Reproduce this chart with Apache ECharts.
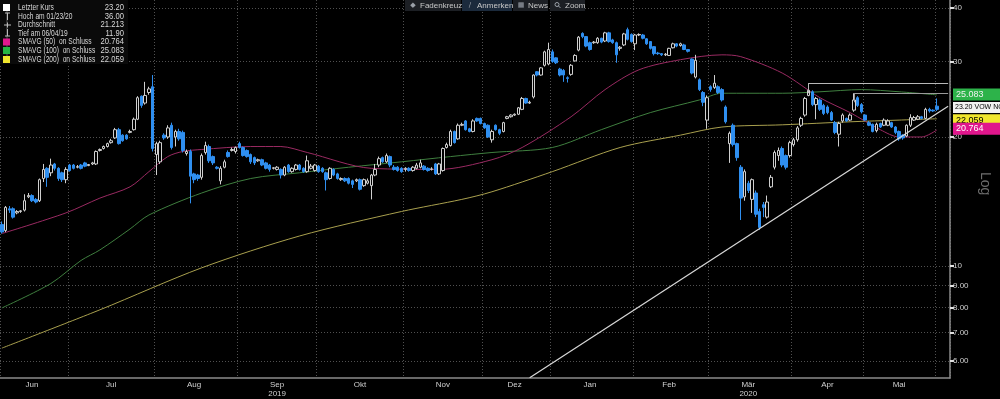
<!DOCTYPE html>
<html>
<head>
<meta charset="utf-8">
<script src="https://cdn.jsdelivr.net/npm/echarts@6/dist/echarts.min.js"></script>
<style>
html, body { margin: 0; padding: 0; background: #000; }
#chart { width: 1000px; height: 399px; }
</style>
</head>
<body>
<div id="chart"></div>
<script>
// trading calendar (Oslo), first day 06/04/19, three empty slots at the end
const firstDay = '2019-06-04';
const lastDay = '2020-06-05';
const holidays = ['2019-06-10', '2019-12-24', '2019-12-25', '2019-12-26', '2019-12-31',
  '2020-01-01', '2020-04-09', '2020-04-10', '2020-04-13', '2020-05-01', '2020-05-21', '2020-06-01'];
const monthNames = ['Jan', 'Feb', 'Mär', 'Apr', 'Mai', 'Jun', 'Jul', 'Aug', 'Sep', 'Okt', 'Nov', 'Dez'];
const yearLabelMonths = ['2019-09', '2020-03'];

// [open, close, low, high]
const ohlc = [
  [12.5,12.0,11.9,12.7],[12.1,13.7,12.0,13.8],[13.6,13.5,13.3,13.8],[13.6,13.0,12.9,13.7],[13.3,13.4,13.2,13.5],
  [13.4,13.45,13.3,13.5],[13.5,14.2,13.4,14.7],[14.5,14.6,14.4,14.8],[14.6,14.2,14.1,14.7],[14.3,14.1,14.0,14.4],
  [14.2,15.9,14.1,16.0],[16.0,16.8,15.7,17.3],[16.9,16.1,15.3,17.0],[16.5,17.2,16.2,17.8],[17.3,16.9,16.7,17.4],
  [16.9,16.0,15.8,17.0],[16.5,15.9,15.7,16.6],[15.9,16.8,15.6,17.0],
  [17.2,16.7,16.6,17.3],[17.2,16.9,16.8,17.3],[17.0,17.05,16.9,17.2],[17.2,16.9,16.8,17.3],[17.4,17.1,17.0,17.5],
  [17.15,17.25,17.1,17.3],[17.3,17.4,17.2,17.5],[17.3,18.5,17.2,18.6],[18.6,18.7,18.5,18.8],[18.8,19.0,18.7,19.1],
  [19.0,19.3,18.9,19.4],[19.4,19.6,19.3,19.8],[19.9,20.8,19.8,21.0],[20.8,19.3,19.2,21.0],[20.2,19.6,19.5,20.3],
  [20.2,19.8,19.7,20.3],[20.5,20.6,20.4,20.8],[20.8,22.0,20.7,22.2],[22.0,24.7,21.9,24.9],[24.9,23.7,23.4,25.0],
  [24.0,25.0,23.8,26.9],[25.4,25.9,25.1,26.2],[26.2,18.8,18.5,27.9],
  [18.2,19.3,16.3,19.5],[17.5,19.4,17.3,19.6],[20.2,19.9,19.7,20.4],[20.0,21.0,19.8,21.3],[21.3,18.9,18.7,21.6],
  [20.0,20.6,19.0,20.8],[20.6,19.8,19.6,20.9],[20.5,18.6,18.4,20.7],[18.3,18.5,18.1,18.7],[18.5,16.2,14.0,18.7],
  [16.4,15.9,15.6,16.5],[16.3,16.0,15.8,16.4],[16.1,18.1,15.9,18.3],[18.4,19.1,18.2,19.5],[19.0,17.6,17.4,19.2],
  [18.0,17.4,17.2,18.1],[17.0,16.9,16.8,17.1],[15.8,16.9,15.5,17.1],[17.0,17.5,16.9,17.7],[18.4,18.0,17.9,18.6],
  [18.6,18.7,18.5,18.9],[18.5,18.9,18.3,19.0],
  [19.3,18.9,18.8,19.5],[18.9,18.1,18.0,19.0],[18.6,18.0,17.9,18.7],[18.2,17.5,17.3,18.3],[17.9,17.4,17.2,18.0],
  [17.6,17.7,17.5,17.8],[17.7,17.2,17.1,17.8],[17.4,16.9,16.8,17.5],[17.2,16.8,16.6,17.3],[16.9,16.95,16.8,17.0],
  [16.8,17.0,16.7,17.1],[16.8,16.3,16.0,16.9],[16.3,17.0,16.2,17.1],[17.2,16.6,16.5,17.3],[16.6,16.9,16.5,17.0],
  [16.8,17.2,16.7,17.3],[17.2,16.8,16.7,17.3],[16.9,16.6,16.5,17.0],[16.6,17.6,16.5,18.1],[16.9,17.1,16.8,17.3],
  [16.7,17.2,16.6,17.3],
  [17.1,16.6,16.5,17.2],[16.9,16.6,16.5,17.0],[16.5,15.9,15.0,16.6],[16.0,16.9,15.9,17.0],[16.8,16.3,16.2,16.9],
  [16.4,16.0,15.9,16.5],[15.9,16.0,15.8,16.1],[16.0,15.8,15.7,16.1],[16.0,15.6,15.5,16.1],[15.8,15.5,15.2,15.9],
  [15.8,15.9,15.7,16.0],[15.9,15.1,15.0,16.0],[15.4,15.9,15.3,16.0],[15.6,15.8,15.5,16.0],[15.4,16.3,14.3,16.4],
  [16.3,16.8,16.2,17.3],[17.2,17.8,17.0,18.0],[17.9,17.5,17.4,18.0],[17.5,18.1,17.4,18.3],[18.0,17.2,17.0,18.1],
  [17.0,16.8,16.7,17.2],[17.0,16.7,16.6,17.1],[16.9,16.6,16.5,17.0],
  [16.8,16.9,16.6,17.0],[16.9,16.7,16.6,17.0],[16.7,17.0,16.6,17.1],[16.9,17.2,16.8,17.4],[17.0,17.4,16.9,17.7],
  [17.1,16.8,16.7,17.2],[16.9,16.7,16.6,17.0],[16.8,16.85,16.7,17.0],[17.3,16.4,16.3,17.4],[16.4,17.3,16.3,17.4],
  [16.7,18.8,16.6,18.9],[18.9,19.2,18.8,19.4],[19.1,20.6,19.0,20.8],[20.6,19.4,19.3,20.7],[19.8,21.3,19.7,21.5],
  [21.3,21.4,21.2,21.6],[21.8,20.8,20.7,21.9],[20.9,20.6,20.5,21.0],[20.6,21.8,20.5,22.0],[22.1,21.8,21.7,22.2],
  [22.1,21.5,21.4,22.2],
  [21.5,21.0,20.9,21.6],[21.3,20.0,19.9,21.4],[19.7,20.6,19.4,20.8],[21.3,20.8,20.7,21.4],[20.8,20.4,20.2,20.9],
  [20.6,21.6,20.5,21.7],[22.1,22.3,22.0,22.4],[22.3,22.5,22.2,22.6],[22.5,22.6,22.4,22.7],[22.6,23.4,22.5,23.5],
  [23.2,24.6,23.1,24.8],[24.6,24.0,23.9,24.7],[24.0,24.1,23.9,24.3],[24.8,27.9,24.6,28.0],[28.4,27.9,27.7,28.5],
  [27.9,29.0,27.8,29.1],[29.4,31.6,29.2,31.8],[29.6,32.0,29.4,33.2],
  [31.6,30.0,29.8,32.0],[30.6,29.8,29.6,30.7],[28.8,27.9,27.7,29.0],[28.6,27.9,26.9,28.8],[27.5,27.4,26.8,27.7],
  [28.0,29.4,27.8,29.6],[30.1,31.0,30.0,31.2],[31.9,34.2,31.7,34.4],[34.9,34.3,34.0,35.1],[34.3,32.6,32.4,34.4],
  [33.2,32.0,31.8,33.4],[33.2,33.3,33.0,33.5],[33.2,34.0,33.0,34.2],[34.0,33.3,33.1,34.1],[33.5,35.0,33.3,35.2],
  [35.0,33.4,33.2,35.2],[33.7,33.2,33.0,33.9],[33.2,31.1,29.8,33.4],[32.2,32.4,31.8,32.6],[32.8,34.8,32.6,35.0],
  [35.6,33.8,33.6,36.0],[34.7,33.4,33.2,34.9],
  [33.0,34.6,31.9,34.8],[34.6,34.7,34.4,34.9],[34.6,34.0,33.8,34.8],[33.9,33.0,32.8,34.0],[33.4,32.2,32.0,33.5],
  [32.5,31.3,31.0,32.6],[31.4,31.3,31.1,31.6],[31.3,31.1,30.9,31.4],[31.1,31.2,30.9,31.4],[31.0,32.2,30.9,32.3],
  [32.3,33.0,32.2,33.2],[33.0,32.6,32.4,33.1],[32.7,33.0,32.5,33.2],[32.8,32.0,31.9,33.0],[32.0,31.7,31.5,32.1],
  [30.4,28.2,28.0,30.5],[27.6,30.2,27.4,31.1],[27.2,25.8,25.6,27.4],[25.4,24.1,23.6,25.6],[21.9,24.7,20.9,25.0],
  [26.2,25.8,25.5,26.4],[26.1,26.7,25.9,27.9],[26.2,25.4,25.2,26.4],[25.8,24.4,24.2,26.0],[23.5,21.7,21.5,23.7],
  [19.3,20.4,17.4,20.6],[21.3,19.2,19.0,21.5],[19.3,17.9,17.6,19.4],[17.0,14.4,12.8,17.2],[14.5,16.6,14.2,16.8],
  [15.6,15.0,14.8,15.8],[14.3,15.9,13.3,16.0],[14.8,13.2,13.0,15.0],[13.4,12.3,12.14,13.6],[13.9,13.7,13.0,14.1],
  [13.0,14.1,12.9,14.6],[15.3,16.1,15.2,16.3],[17.0,18.4,16.8,18.6],[18.1,18.6,17.6,18.9],[18.8,17.2,17.0,19.0],
  [18.1,17.0,16.8,18.2],[18.1,19.4,17.9,19.6],
  [19.2,19.7,19.0,19.9],[19.7,21.0,19.5,21.2],[21.3,22.1,21.1,22.3],[22.5,24.6,22.3,24.8],[25.0,25.7,24.9,26.7],
  [25.5,23.8,23.6,25.7],[23.8,24.6,22.0,24.8],[24.4,23.2,23.0,24.6],[23.7,22.7,22.5,23.9],[23.5,22.8,22.6,23.7],
  [22.8,21.9,21.8,23.0],[21.6,20.5,20.3,21.8],[20.3,21.5,19.0,21.7],[21.8,22.5,21.6,22.7],[22.1,21.8,21.7,22.2],
  [21.9,22.5,21.8,22.7],[23.1,24.4,22.9,25.3],[24.7,23.7,23.5,24.9],[23.8,22.9,22.7,24.0],
  [22.5,21.9,21.8,22.6],[21.6,21.3,21.2,21.8],[21.4,20.6,20.5,21.5],[20.7,21.4,20.5,21.6],[21.5,21.1,21.0,21.6],
  [21.3,21.9,21.2,22.1],[21.3,21.8,21.2,22.0],[21.6,21.1,21.0,21.7],[21.1,20.5,20.3,21.2],[20.6,19.8,19.6,20.7],
  [20.2,19.9,19.7,20.3],[20.1,21.3,20.0,21.4],[21.3,22.2,21.1,22.6],[21.9,22.2,21.8,22.4],[22.0,22.3,21.9,22.5],
  [22.3,22.1,22.0,22.4],[22.1,23.2,22.0,23.4],[23.2,23.0,22.8,23.4],[23.1,23.0,22.9,23.2],
  [23.6,23.2,23.0,24.6]
];

// moving averages: [day index, value]
const sma50 = [[0,11.9],[17,13.3],[26,14.4],[34,15.3],[39,16.6],[44,18.0],[48,18.5],[53,18.7],[66,19.0],
  [74,19.0],[81,18.4],[98,16.9],[116,16.8],[130,17.7],[138,18.9],[151,22.3],[160,25.8],[169,28.7],[180,30.3],
  [191,31.1],[196,30.8],[207,28.2],[217,24.7],[225,22.8],[233,20.8],[238,20.0],[244,20.0],[248,20.764]];
const sma100 = [[0,7.98],[13,9.1],[21,10.3],[26,10.9],[34,12.2],[39,13.15],[53,14.8],[66,16.0],[79,16.5],
  [92,17.0],[106,17.5],[119,18.0],[130,18.4],[146,18.9],[159,20.8],[172,22.8],[185,24.4],[191,25.3],
  [207,25.3],[217,25.5],[228,25.8],[238,25.5],[248,25.083]];
const sma200 = [[0,6.43],[26,7.9],[53,9.9],[79,11.75],[106,13.4],[122,14.3],[130,14.9],[146,16.6],
  [164,18.9],[180,20.2],[191,21.1],[207,21.35],[225,21.7],[238,21.9],[248,22.059]];

// drawn annotations: [day index, price]
const trendLine = [[140, 5.48], [251, 23.6]];
const resistance1 = [[214, 26.7], [251, 26.7]];
const bracket1 = [[214, 26.7], [214, 25.3]];
const resistance2 = [[226, 25.3], [251, 25.3]];
const bracket2 = [[226, 25.3], [226, 24.1]];

const yTicks = [6, 7, 8, 9, 10, 20, 30, 40];
const yMin = 5.476, yMax = 41.76;

const legendRows = ['Letzter Kurs', 'Hoch am 01/23/20', 'Durchschnitt', 'Tief am 06/04/19',
  'SMAVG (50)  on Schluss', 'SMAVG (100)  on Schluss', 'SMAVG (200)  on Schluss'];
const legendValues = ['23.20', '36.00', '21.213', '11.90', '20.764', '25.083', '22.059'];
const lastClose = 23.20;
const tickerTag = '23.20 VOW NO';

const FONT = '"Liberation Sans", Arial, sans-serif';
const BLUE = '#2f8ff0';
const PINK = '#9a2a62', GREEN = '#3f7f3f', YELLOW = '#a9a04e';
const lg = v => Math.log10(v);

// build trading dates
const dates = [];
for (let d = new Date(firstDay + 'T00:00:00Z'); d <= new Date(lastDay + 'T00:00:00Z'); d.setUTCDate(d.getUTCDate() + 1)) {
  const wd = d.getUTCDay();
  const s = d.toISOString().slice(0, 10);
  if (wd > 0 && wd < 6 && !holidays.includes(s)) dates.push(s);
}
const groups = [];
dates.forEach((d, i) => {
  const m = d.slice(0, 7);
  if (!groups.length || groups[groups.length - 1].m !== m) groups.push({ m: m, s: i, e: i });
  else groups[groups.length - 1].e = i;
});
const monthStart = new Set();
const labelAt = {};
groups.forEach(g => {
  monthStart.add(g.s);
  if (g.e - g.s >= 5) labelAt[Math.floor((g.s + g.e) / 2)] = g.m;
});
const yearStart = dates.findIndex(d => d.slice(0, 4) === '2020');

const candleData = ohlc.map(([o, c, l, h]) => [lg(o), lg(c), lg(l), lg(h)]);
const toLog = arr => arr.map(([i, v]) => [i, lg(v)]);
const seg = (pts, color, width) => [
  { coord: [pts[0][0], lg(pts[0][1])], lineStyle: { color: color, width: width, type: 'solid' }, label: { show: false } },
  { coord: [pts[1][0], lg(pts[1][1])] }
];
const tag = (value, text, bg, fg, size, pad) => ({
  yAxis: lg(value),
  lineStyle: { color: 'rgba(0,0,0,0)', width: 1 },
  label: {
    show: true, position: 'end', distance: 3, formatter: text,
    backgroundColor: bg, color: fg, fontSize: size || 9, fontFamily: FONT,
    padding: pad || [2, 3, 1, 3], width: 48, overflow: 'none', align: 'left', verticalAlign: 'middle'
  }
});

const chart = echarts.init(document.getElementById('chart'));

// legend box graphics
const legendGraphics = [
  { type: 'rect', shape: { x: 0, y: 0, width: 128, height: 64 }, style: { fill: '#0a0a0a' }, z: 100 },
  { type: 'line', shape: { x1: 7, y1: 10, x2: 7, y2: 60 }, style: { stroke: '#555', lineWidth: 1 }, z: 101 },
  { type: 'rect', shape: { x: 3, y: 4, width: 7, height: 7 }, style: { fill: '#ffffff' }, z: 102 },
  { type: 'line', shape: { x1: 5, y1: 13, x2: 10, y2: 13 }, style: { stroke: '#bbb', lineWidth: 1 }, z: 102 },
  { type: 'line', shape: { x1: 7.5, y1: 13, x2: 7.5, y2: 20 }, style: { stroke: '#bbb', lineWidth: 1 }, z: 102 },
  { type: 'line', shape: { x1: 4, y1: 25, x2: 11, y2: 25 }, style: { stroke: '#bbb', lineWidth: 1 }, z: 102 },
  { type: 'line', shape: { x1: 7.5, y1: 22.5, x2: 7.5, y2: 27.5 }, style: { stroke: '#bbb', lineWidth: 1 }, z: 102 },
  { type: 'line', shape: { x1: 7.5, y1: 29, x2: 7.5, y2: 36 }, style: { stroke: '#bbb', lineWidth: 1 }, z: 102 },
  { type: 'line', shape: { x1: 5, y1: 36, x2: 10, y2: 36 }, style: { stroke: '#bbb', lineWidth: 1 }, z: 102 },
  { type: 'rect', shape: { x: 3, y: 38.5, width: 7, height: 7 }, style: { fill: '#e0178e' }, z: 102 },
  { type: 'rect', shape: { x: 3, y: 47, width: 7, height: 7 }, style: { fill: '#25b443' }, z: 102 },
  { type: 'rect', shape: { x: 3, y: 56, width: 7, height: 7 }, style: { fill: '#f0e62e' }, z: 102 }
];
const rowY = [8, 16.5, 25, 33.5, 42, 50.5, 59.5];
legendRows.forEach((t, k) => {
  legendGraphics.push({ type: 'text', x: 18, y: rowY[k], scaleX: 0.74, z: 102,
    style: { text: t, fill: '#d8d8d8', font: '9px ' + FONT, textVerticalAlign: 'middle' } });
  legendGraphics.push({ type: 'text', x: 124, y: rowY[k], scaleX: 0.85, z: 102,
    style: { text: legendValues[k], fill: '#d8d8d8', font: '9px ' + FONT, textAlign: 'right', textVerticalAlign: 'middle' } });
});

// toolbar buttons
const buttons = [
  { x: 405, w: 56, icon: '◆', label: 'Fadenkreuz', bg: '#1c1f24' },
  { x: 462, w: 50, icon: '/', label: 'Anmerken', bg: '#1b2a3c' },
  { x: 513, w: 35, icon: '▦', label: 'News', bg: '#1c1f24' },
  { x: 550, w: 35, icon: '', label: 'Zoom', bg: '#1c1f24' }
];
const toolbarGraphics = [];
buttons.forEach(b => {
  toolbarGraphics.push({ type: 'rect', shape: { x: b.x, y: 0, width: b.w, height: 11 }, style: { fill: b.bg }, z: 100 });
  if (b.icon) toolbarGraphics.push({ type: 'text', x: b.x + 8, y: 5.5, z: 101,
    style: { text: b.icon, fill: '#9aa0a8', font: '7px "DejaVu Sans"', textAlign: 'center', textVerticalAlign: 'middle' } });
  toolbarGraphics.push({ type: 'text', x: b.x + 15, y: 5.5, z: 101,
    style: { text: b.label, fill: '#c8c8c8', font: '8px ' + FONT, textVerticalAlign: 'middle' } });
});
toolbarGraphics.push({ type: 'circle', shape: { cx: 557, cy: 4.5, r: 2 }, style: { fill: 'none', stroke: '#9aa0a8', lineWidth: 1 }, z: 101 });
toolbarGraphics.push({ type: 'line', shape: { x1: 558.5, y1: 6, x2: 560.5, y2: 8 }, style: { stroke: '#9aa0a8', lineWidth: 1 }, z: 101 });

const option = {
  backgroundColor: '#000',
  animation: false,
  grid: { left: 0, right: 50, top: 0, bottom: 21, containLabel: false },
  xAxis: [
    {
      type: 'category',
      data: dates,
      boundaryGap: true,
      axisLine: { lineStyle: { color: '#8a8a8a', width: 1.5 } },
      axisTick: { interval: (i) => monthStart.has(i), length: 3, lineStyle: { color: '#9a9a9a' } },
      axisLabel: {
        interval: (i) => labelAt[i] !== undefined,
        formatter: (v, i) => {
          const m = labelAt[i];
          if (!m) return '';
          const name = monthNames[+m.slice(5, 7) - 1];
          return yearLabelMonths.includes(m) ? name + '\n' + m.slice(0, 4) : name;
        },
        color: '#d0d0d0', fontSize: 8, fontFamily: FONT, margin: 3, lineHeight: 8.5
      },
      splitLine: { show: true, interval: (i) => monthStart.has(i), lineStyle: { color: '#505050', type: [1, 2], width: 1 } }
    },
    {
      type: 'category',
      data: dates,
      boundaryGap: true,
      position: 'bottom',
      axisLine: { show: false },
      axisTick: { interval: (i) => i === yearStart, length: 20, lineStyle: { color: '#8a8a8a', width: 1.5 } },
      axisLabel: { show: false },
      splitLine: { show: false }
    }
  ],
  yAxis: {
    type: 'value',
    position: 'right',
    min: lg(yMin),
    max: lg(yMax),
    axisLine: { show: true, lineStyle: { color: '#8a8a8a', width: 1.5 } },
    axisTick: { show: true, customValues: yTicks.map(lg), length: 4, lineStyle: { color: '#e0e0e0', width: 2 } },
    axisLabel: {
      customValues: yTicks.map(lg),
      formatter: (v) => { const p = Math.pow(10, v); return p >= 9.99 ? String(Math.round(p)) : p.toFixed(2); },
      color: '#d0d0d0', fontSize: 8, fontFamily: FONT, margin: 3
    },
    splitLine: { show: true, lineStyle: { color: '#505050', type: [1, 2], width: 1 } }
  },
  series: [
    {
      name: 'SMAVG (200)', type: 'line', data: toLog(sma200), smooth: 0.3, showSymbol: false,
      lineStyle: { color: YELLOW, width: 1 }, z: 2, silent: true,
      markLine: { silent: true, symbol: ['none', 'none'], animation: false, data: [tag(22.059, '22.059', '#f0e62e', '#000')] }
    },
    {
      name: 'SMAVG (100)', type: 'line', data: toLog(sma100), smooth: 0.3, showSymbol: false,
      lineStyle: { color: GREEN, width: 1 }, z: 2, silent: true,
      markLine: { silent: true, symbol: ['none', 'none'], animation: false, data: [tag(25.083, '25.083', '#2db34a', '#f0f0f0')] }
    },
    {
      name: 'SMAVG (50)', type: 'line', data: toLog(sma50), smooth: 0.3, showSymbol: false,
      lineStyle: { color: PINK, width: 1 }, z: 2, silent: true,
      markLine: { silent: true, symbol: ['none', 'none'], animation: false, data: [tag(20.764, '20.764', '#e0168c', '#ffffff')] }
    },
    {
      name: 'Kurs', type: 'candlestick', data: candleData, barWidth: 3, z: 3,
      itemStyle: { color: '#000', color0: BLUE, borderColor: '#cfcfcf', borderColor0: BLUE, borderWidth: 1 },
      markLine: {
        silent: true, symbol: ['none', 'none'], animation: false,
        data: [
          seg(trendLine, '#d8d8d8', 1.2),
          seg(resistance1, '#b8b8b8', 1),
          seg(bracket1, '#b8b8b8', 1),
          seg(resistance2, '#9a9a9a', 1),
          seg(bracket2, '#9a9a9a', 1),
          tag(lastClose, tickerTag, '#f2f2f2', '#000', 7, [2, 1, 2, 2])
        ]
      }
    }
  ],
  graphic: [
    ...legendGraphics,
    ...toolbarGraphics,
    { type: 'text', x: 992, y: 172, rotation: -Math.PI / 2, z: 100,
      style: { text: 'Log', fill: '#6e6e6e', font: '14px ' + FONT } }
  ]
};
chart.setOption(option);
</script>
</body>
</html>
